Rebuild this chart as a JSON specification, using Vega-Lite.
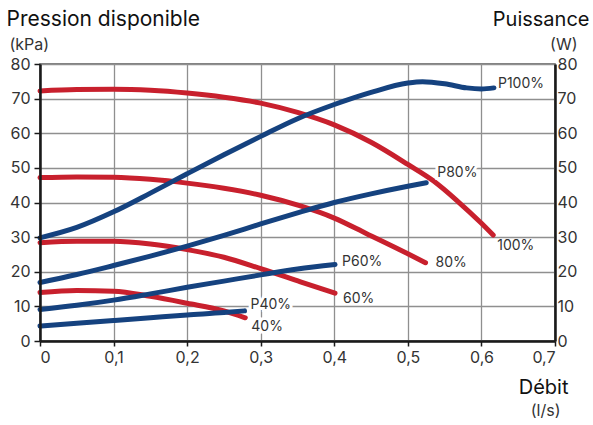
{
  "$schema": "https://vega.github.io/schema/vega-lite/v6.json",
  "width": 515,
  "height": 277,
  "autosize": {"type": "none"},
  "padding": {"left": 40, "top": 64, "right": 38, "bottom": 84},
  "background": "white",
  "config": {
    "font": "Inter",
    "view": {"stroke": "#555555", "strokeWidth": 1.5},
    "axis": {
      "labelFont": "Inter",
      "labelFontSize": 16,
      "labelColor": "#333333",
      "titleFont": "Inter",
      "titleFontWeight": "normal",
      "titleColor": "#111111",
      "domainColor": "#1a1a1a",
      "domainWidth": 2.5,
      "tickColor": "#1a1a1a",
      "tickWidth": 1.5,
      "gridColor": "#8f8f8f",
      "gridWidth": 1.3,
      "gridOpacity": 1
    },
    "text": {"font": "Inter"}
  },
  "datasets": {
    "curves": [
      {"kind": "pression", "serie": "100%", "x": 0, "y": 72.2},
      {"kind": "pression", "serie": "100%", "x": 0.05, "y": 72.6},
      {"kind": "pression", "serie": "100%", "x": 0.1, "y": 72.7},
      {"kind": "pression", "serie": "100%", "x": 0.15, "y": 72.4},
      {"kind": "pression", "serie": "100%", "x": 0.2, "y": 71.6},
      {"kind": "pression", "serie": "100%", "x": 0.25, "y": 70.4},
      {"kind": "pression", "serie": "100%", "x": 0.3, "y": 68.7},
      {"kind": "pression", "serie": "100%", "x": 0.35, "y": 66.0},
      {"kind": "pression", "serie": "100%", "x": 0.4, "y": 62.4},
      {"kind": "pression", "serie": "100%", "x": 0.45, "y": 57.4},
      {"kind": "pression", "serie": "100%", "x": 0.5, "y": 51.0},
      {"kind": "pression", "serie": "100%", "x": 0.535, "y": 46.2},
      {"kind": "pression", "serie": "100%", "x": 0.567, "y": 40.5},
      {"kind": "pression", "serie": "100%", "x": 0.6, "y": 34.0},
      {"kind": "pression", "serie": "100%", "x": 0.616, "y": 30.6},
      {"kind": "pression", "serie": "80%", "x": 0, "y": 47.2},
      {"kind": "pression", "serie": "80%", "x": 0.05, "y": 47.4},
      {"kind": "pression", "serie": "80%", "x": 0.1, "y": 47.3},
      {"kind": "pression", "serie": "80%", "x": 0.15, "y": 46.7},
      {"kind": "pression", "serie": "80%", "x": 0.2, "y": 45.6},
      {"kind": "pression", "serie": "80%", "x": 0.25, "y": 44.1},
      {"kind": "pression", "serie": "80%", "x": 0.3, "y": 42.1},
      {"kind": "pression", "serie": "80%", "x": 0.354, "y": 39.0},
      {"kind": "pression", "serie": "80%", "x": 0.4, "y": 35.5},
      {"kind": "pression", "serie": "80%", "x": 0.444, "y": 31.0},
      {"kind": "pression", "serie": "80%", "x": 0.5, "y": 25.2},
      {"kind": "pression", "serie": "80%", "x": 0.524, "y": 22.6},
      {"kind": "pression", "serie": "60%", "x": 0, "y": 28.4},
      {"kind": "pression", "serie": "60%", "x": 0.05, "y": 28.8},
      {"kind": "pression", "serie": "60%", "x": 0.1, "y": 28.8},
      {"kind": "pression", "serie": "60%", "x": 0.15, "y": 28.0},
      {"kind": "pression", "serie": "60%", "x": 0.2, "y": 26.4},
      {"kind": "pression", "serie": "60%", "x": 0.25, "y": 24.2},
      {"kind": "pression", "serie": "60%", "x": 0.3, "y": 20.9},
      {"kind": "pression", "serie": "60%", "x": 0.354, "y": 17.1},
      {"kind": "pression", "serie": "60%", "x": 0.401, "y": 13.8},
      {"kind": "pression", "serie": "40%", "x": 0, "y": 14.0},
      {"kind": "pression", "serie": "40%", "x": 0.05, "y": 14.6},
      {"kind": "pression", "serie": "40%", "x": 0.1, "y": 14.4},
      {"kind": "pression", "serie": "40%", "x": 0.15, "y": 12.9},
      {"kind": "pression", "serie": "40%", "x": 0.2, "y": 10.9},
      {"kind": "pression", "serie": "40%", "x": 0.25, "y": 8.7},
      {"kind": "pression", "serie": "40%", "x": 0.279, "y": 6.7},
      {"kind": "puissance", "serie": "P100%", "x": 0, "y": 29.8},
      {"kind": "puissance", "serie": "P100%", "x": 0.05, "y": 32.8},
      {"kind": "puissance", "serie": "P100%", "x": 0.1, "y": 37.3},
      {"kind": "puissance", "serie": "P100%", "x": 0.15, "y": 42.7},
      {"kind": "puissance", "serie": "P100%", "x": 0.2, "y": 48.3},
      {"kind": "puissance", "serie": "P100%", "x": 0.25, "y": 53.8},
      {"kind": "puissance", "serie": "P100%", "x": 0.3, "y": 59.1},
      {"kind": "puissance", "serie": "P100%", "x": 0.35, "y": 64.2},
      {"kind": "puissance", "serie": "P100%", "x": 0.4, "y": 68.3},
      {"kind": "puissance", "serie": "P100%", "x": 0.45, "y": 71.8},
      {"kind": "puissance", "serie": "P100%", "x": 0.5, "y": 74.5},
      {"kind": "puissance", "serie": "P100%", "x": 0.52, "y": 74.9},
      {"kind": "puissance", "serie": "P100%", "x": 0.55, "y": 74.3},
      {"kind": "puissance", "serie": "P100%", "x": 0.58, "y": 73.1},
      {"kind": "puissance", "serie": "P100%", "x": 0.6, "y": 72.8},
      {"kind": "puissance", "serie": "P100%", "x": 0.617, "y": 73.1},
      {"kind": "puissance", "serie": "P80%", "x": 0, "y": 16.9},
      {"kind": "puissance", "serie": "P80%", "x": 0.05, "y": 19.2},
      {"kind": "puissance", "serie": "P80%", "x": 0.1, "y": 21.8},
      {"kind": "puissance", "serie": "P80%", "x": 0.15, "y": 24.5},
      {"kind": "puissance", "serie": "P80%", "x": 0.2, "y": 27.4},
      {"kind": "puissance", "serie": "P80%", "x": 0.25, "y": 30.5},
      {"kind": "puissance", "serie": "P80%", "x": 0.3, "y": 33.8},
      {"kind": "puissance", "serie": "P80%", "x": 0.35, "y": 37.0},
      {"kind": "puissance", "serie": "P80%", "x": 0.4, "y": 40.0},
      {"kind": "puissance", "serie": "P80%", "x": 0.45, "y": 42.5},
      {"kind": "puissance", "serie": "P80%", "x": 0.5, "y": 44.7},
      {"kind": "puissance", "serie": "P80%", "x": 0.525, "y": 45.7},
      {"kind": "puissance", "serie": "P60%", "x": 0, "y": 9.1},
      {"kind": "puissance", "serie": "P60%", "x": 0.05, "y": 10.3},
      {"kind": "puissance", "serie": "P60%", "x": 0.1, "y": 11.8},
      {"kind": "puissance", "serie": "P60%", "x": 0.15, "y": 13.6},
      {"kind": "puissance", "serie": "P60%", "x": 0.2, "y": 15.5},
      {"kind": "puissance", "serie": "P60%", "x": 0.25, "y": 17.3},
      {"kind": "puissance", "serie": "P60%", "x": 0.3, "y": 19.1},
      {"kind": "puissance", "serie": "P60%", "x": 0.35, "y": 20.8},
      {"kind": "puissance", "serie": "P60%", "x": 0.401, "y": 22.1},
      {"kind": "puissance", "serie": "P40%", "x": 0, "y": 4.3},
      {"kind": "puissance", "serie": "P40%", "x": 0.05, "y": 5.1},
      {"kind": "puissance", "serie": "P40%", "x": 0.1, "y": 5.9},
      {"kind": "puissance", "serie": "P40%", "x": 0.15, "y": 6.7},
      {"kind": "puissance", "serie": "P40%", "x": 0.2, "y": 7.5},
      {"kind": "puissance", "serie": "P40%", "x": 0.25, "y": 8.2},
      {"kind": "puissance", "serie": "P40%", "x": 0.278, "y": 8.7}
    ],
    "labels": [
      {"label": "P100%", "x": 0.617, "y": 73.1},
      {"label": "P80%", "x": 0.525, "y": 45.7},
      {"label": "P60%", "x": 0.401, "y": 22.1},
      {"label": "P40%", "x": 0.278, "y": 8.7},
      {"label": "100%", "x": 0.616, "y": 30.6},
      {"label": "80%", "x": 0.524, "y": 22.6},
      {"label": "60%", "x": 0.401, "y": 13.8},
      {"label": "40%", "x": 0.279, "y": 6.7}
    ]
  },
  "resolve": {"axis": {"x": "independent", "y": "independent"}},
  "layer": [
    {
      "data": {"name": "labels"},
      "transform": [{"filter": "datum.label == 'P100%'"}],
      "mark": {"type": "text", "align": "left", "baseline": "middle", "dx": 4, "dy": -4, "fontSize": 14, "color": "#333333"},
      "encoding": {
        "x": {"field": "x", "type": "quantitative", "scale": {"domain": [0, 0.7], "nice": false},
          "axis": {"grid": true, "labels": false, "ticks": false, "domain": false, "title": null, "values": [0, 0.1, 0.2, 0.3, 0.4, 0.5, 0.6, 0.7], "zindex": 0}},
        "y": {"field": "y", "type": "quantitative", "scale": {"domain": [0, 80], "nice": false},
          "axis": {"orient": "left", "grid": true, "labels": false, "ticks": false, "domain": false, "values": [0, 10, 20, 30, 40, 50, 60, 70, 80], "zindex": 0,
            "title": "(kPa)", "titleAngle": 0, "titleAlign": "left", "titleBaseline": "alphabetic", "titleX": -31, "titleY": -15, "titleFontSize": 16, "titleColor": "#333333"}},
        "text": {"field": "label"}
      }
    },
    {
      "data": {"name": "curves"},
      "transform": [{"filter": "datum.kind == 'pression'"}],
      "mark": {"type": "line", "color": "#C8202D", "strokeWidth": 5, "strokeCap": "round", "interpolate": "monotone"},
      "encoding": {
        "x": {"field": "x", "type": "quantitative",
          "axis": {"orient": "bottom", "grid": false, "values": [0, 0.1, 0.2, 0.3, 0.4, 0.5, 0.6, 0.7], "labelExpr": "replace(format(datum.value, '~g'), '.', ',')", "tickSize": 5, "labelPadding": 3, "zindex": 1,
            "title": "Débit", "titleAlign": "right", "titleBaseline": "alphabetic", "titleX": 528, "titleY": 52, "titleFontSize": 20}},
        "y": {"field": "y", "type": "quantitative",
          "axis": {"orient": "left", "grid": false, "values": [0, 10, 20, 30, 40, 50, 60, 70, 80], "tickSize": 6, "labelPadding": 4, "zindex": 1,
            "title": "Pression disponible", "titleAngle": 0, "titleAlign": "left", "titleBaseline": "alphabetic", "titleX": -34, "titleY": -39, "titleFontSize": 21}},
        "detail": {"field": "serie"}
      }
    },
    {
      "data": {"name": "curves"},
      "transform": [{"filter": "datum.kind == 'puissance'"}],
      "mark": {"type": "line", "color": "#15427F", "strokeWidth": 5, "strokeCap": "round", "interpolate": "monotone"},
      "encoding": {
        "x": {"field": "x", "type": "quantitative",
          "axis": {"orient": "bottom", "grid": false, "labels": false, "ticks": false, "domain": false,
            "title": "(l/s)", "titleAlign": "right", "titleBaseline": "alphabetic", "titleX": 520, "titleY": 74, "titleFontSize": 16, "titleColor": "#333333"}},
        "y": {"field": "y", "type": "quantitative",
          "axis": {"orient": "right", "grid": false, "values": [0, 10, 20, 30, 40, 50, 60, 70, 80], "ticks": false, "labelPadding": 2, "zindex": 1,
            "title": "Puissance", "titleAngle": 0, "titleAlign": "right", "titleBaseline": "alphabetic", "titleX": 34, "titleY": -39, "titleFontSize": 20}},
        "detail": {"field": "serie"}
      }
    },
    {
      "data": {"name": "labels"},
      "transform": [{"filter": "datum.label == 'P80%'"}],
      "mark": {"type": "text", "align": "left", "baseline": "middle", "dx": 11, "dy": -10, "fontSize": 14, "color": "white", "stroke": "white", "strokeWidth": 6},
      "encoding": {
        "x": {"field": "x", "type": "quantitative", "axis": null},
        "y": {"field": "y", "type": "quantitative",
          "axis": {"orient": "right", "grid": false, "labels": false, "ticks": false, "domain": false,
            "title": "(W)", "titleAngle": 0, "titleAlign": "right", "titleBaseline": "alphabetic", "titleX": 22, "titleY": -15, "titleFontSize": 16, "titleColor": "#333333"}},
        "text": {"field": "label"}
      }
    },
    {
      "data": {"name": "labels"},
      "transform": [{"filter": "datum.label == 'P80%'"}],
      "mark": {"type": "text", "align": "left", "baseline": "middle", "dx": 11, "dy": -10, "fontSize": 14, "color": "#333333"},
      "encoding": {
        "x": {"field": "x", "type": "quantitative", "axis": null},
        "y": {"field": "y", "type": "quantitative", "axis": null},
        "text": {"field": "label"}
      }
    },
    {
      "data": {"name": "labels"},
      "transform": [{"filter": "datum.label == 'P60%'"}],
      "mark": {"type": "text", "align": "left", "baseline": "middle", "dx": 7, "dy": -2, "fontSize": 14, "color": "#333333"},
      "encoding": {
        "x": {"field": "x", "type": "quantitative", "axis": null},
        "y": {"field": "y", "type": "quantitative", "axis": null},
        "text": {"field": "label"}
      }
    },
    {
      "data": {"name": "labels"},
      "transform": [{"filter": "datum.label == 'P40%'"}],
      "mark": {"type": "text", "align": "left", "baseline": "middle", "dx": 6, "dy": -6, "fontSize": 14, "color": "white", "stroke": "white", "strokeWidth": 6},
      "encoding": {
        "x": {"field": "x", "type": "quantitative", "axis": null},
        "y": {"field": "y", "type": "quantitative", "axis": null},
        "text": {"field": "label"}
      }
    },
    {
      "data": {"name": "labels"},
      "transform": [{"filter": "datum.label == 'P40%'"}],
      "mark": {"type": "text", "align": "left", "baseline": "middle", "dx": 6, "dy": -6, "fontSize": 14, "color": "#333333"},
      "encoding": {
        "x": {"field": "x", "type": "quantitative", "axis": null},
        "y": {"field": "y", "type": "quantitative", "axis": null},
        "text": {"field": "label"}
      }
    },
    {
      "data": {"name": "labels"},
      "transform": [{"filter": "datum.label == '100%'"}],
      "mark": {"type": "text", "align": "left", "baseline": "middle", "dx": 4, "dy": 11, "fontSize": 14, "color": "#333333"},
      "encoding": {
        "x": {"field": "x", "type": "quantitative", "axis": null},
        "y": {"field": "y", "type": "quantitative", "axis": null},
        "text": {"field": "label"}
      }
    },
    {
      "data": {"name": "labels"},
      "transform": [{"filter": "datum.label == '80%'"}],
      "mark": {"type": "text", "align": "left", "baseline": "middle", "dx": 10, "dy": 0, "fontSize": 14, "color": "#333333"},
      "encoding": {
        "x": {"field": "x", "type": "quantitative", "axis": null},
        "y": {"field": "y", "type": "quantitative", "axis": null},
        "text": {"field": "label"}
      }
    },
    {
      "data": {"name": "labels"},
      "transform": [{"filter": "datum.label == '60%'"}],
      "mark": {"type": "text", "align": "left", "baseline": "middle", "dx": 8, "dy": 6, "fontSize": 14, "color": "#333333"},
      "encoding": {
        "x": {"field": "x", "type": "quantitative", "axis": null},
        "y": {"field": "y", "type": "quantitative", "axis": null},
        "text": {"field": "label"}
      }
    },
    {
      "data": {"name": "labels"},
      "transform": [{"filter": "datum.label == '40%'"}],
      "mark": {"type": "text", "align": "left", "baseline": "middle", "dx": 6, "dy": 9, "fontSize": 14, "color": "white", "stroke": "white", "strokeWidth": 6},
      "encoding": {
        "x": {"field": "x", "type": "quantitative", "axis": null},
        "y": {"field": "y", "type": "quantitative", "axis": null},
        "text": {"field": "label"}
      }
    },
    {
      "data": {"name": "labels"},
      "transform": [{"filter": "datum.label == '40%'"}],
      "mark": {"type": "text", "align": "left", "baseline": "middle", "dx": 6, "dy": 9, "fontSize": 14, "color": "#333333"},
      "encoding": {
        "x": {"field": "x", "type": "quantitative", "axis": null},
        "y": {"field": "y", "type": "quantitative", "axis": null},
        "text": {"field": "label"}
      }
    }
  ]
}
